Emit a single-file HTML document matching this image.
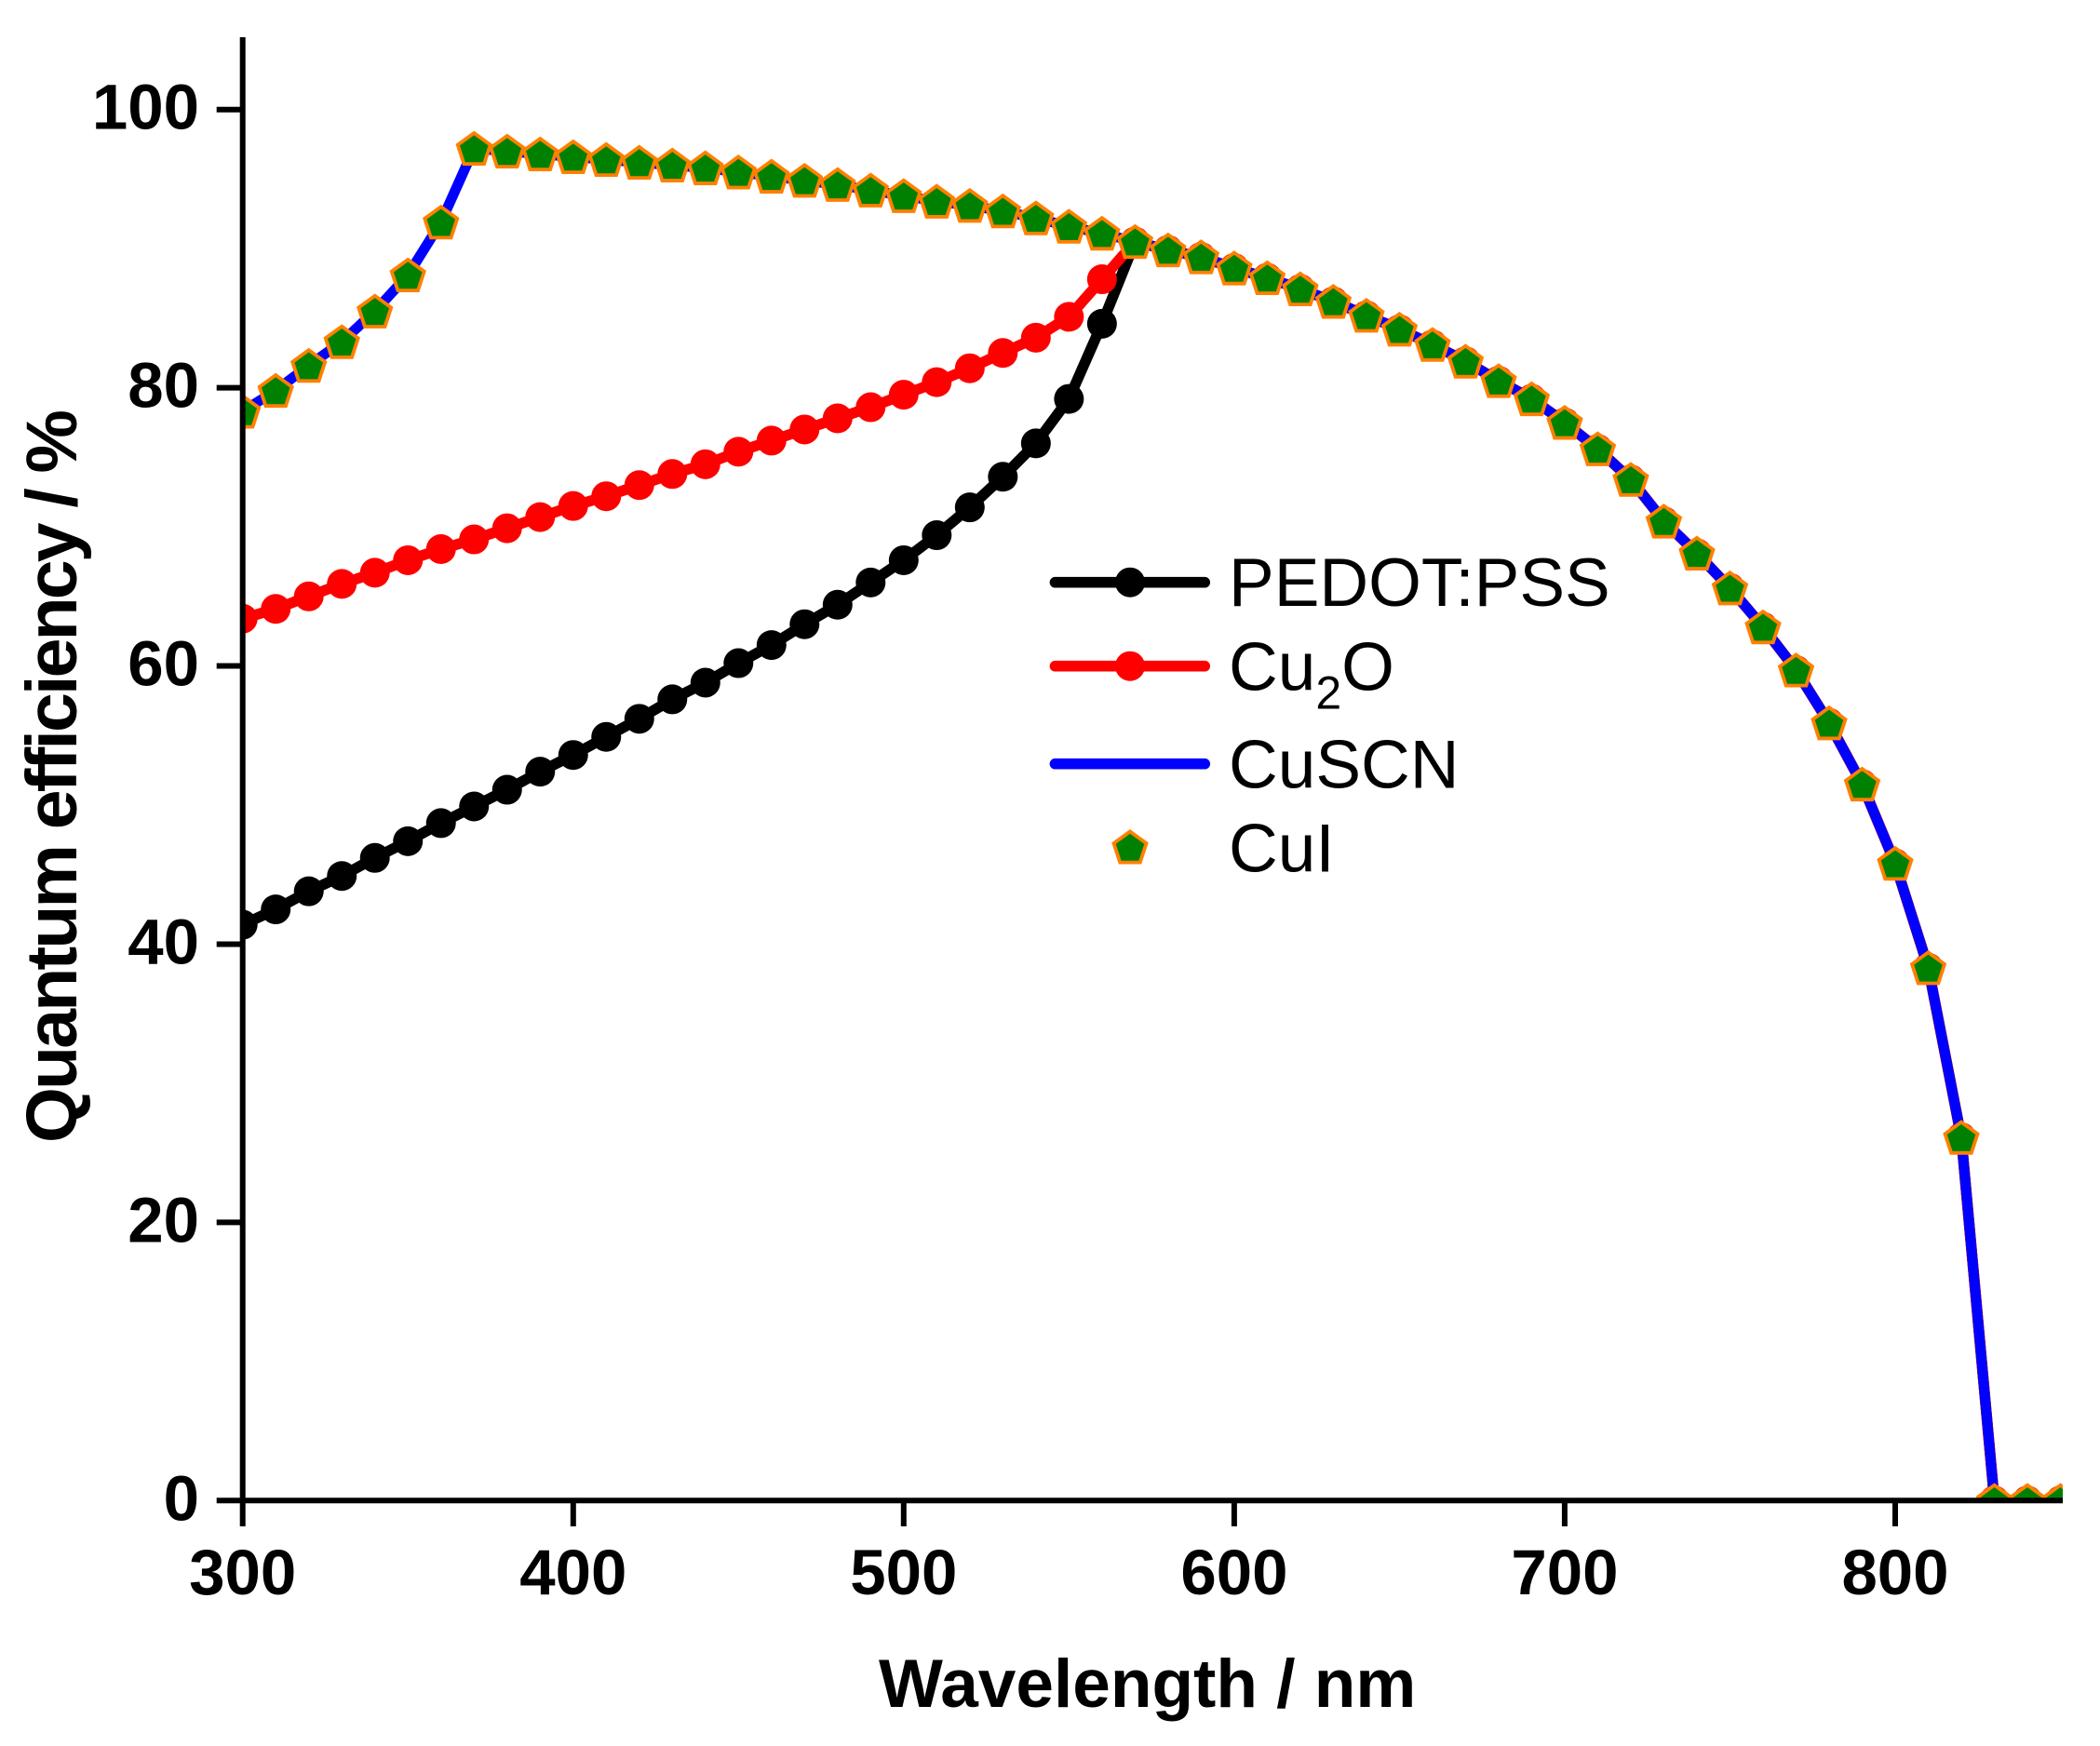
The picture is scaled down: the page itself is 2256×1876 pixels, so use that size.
<!DOCTYPE html>
<html>
<head>
<meta charset="utf-8">
<style>
  html, body { margin: 0; padding: 0; background: #fff; }
  svg { display: block; }
</style>
</head>
<body>
<svg width="2256" height="1876" viewBox="0 0 2256 1876" xmlns="http://www.w3.org/2000/svg">
  <defs>
    <clipPath id="plotclip">
      <rect x="260.7" y="20" width="1955.3" height="1592.3"/>
    </clipPath>
    <path id="pent" transform="scale(0.281643,-0.066908)" d="M0,-16.6 L17.5,-3.9 L10.8,16.6 L-10.8,16.6 L-17.5,-3.9 Z" fill="#008000" stroke="#FF8000" stroke-width="3.8" stroke-linejoin="miter"/>
    <circle id="cblk" r="16" transform="scale(0.281643,0.066908)" fill="#000000"/>
    <circle id="cred" r="16" transform="scale(0.281643,0.066908)" fill="#FF0000"/>
  </defs>

  <rect x="0" y="0" width="2256" height="1876" fill="#ffffff"/>

  <g clip-path="url(#plotclip)">
    <g transform="translate(260.7,1612.3) scale(3.5506,-14.946) translate(-300,0)">
      <!-- PEDOT:PSS -->
      <polyline fill="none" stroke="#000000" stroke-width="11.5" stroke-linejoin="round" vector-effect="non-scaling-stroke"
        points="300,41.4 310,42.5 320,43.8 330,44.9 340,46.2 350,47.4 360,48.7 370,49.9 380,51.1 390,52.4 400,53.6 410,54.9 420,56.2 430,57.6 440,58.8 450,60.2 460,61.5 470,63.0 480,64.4 490,66.0 500,67.6 510,69.4 520,71.4 530,73.6 540,76.0 550,79.2 560,84.6 570,90.5 580,89.9 590,89.4 600,88.6 610,87.9 620,87.1 630,86.2 640,85.2 650,84.2 660,83.1 670,81.9 680,80.5 690,79.2 700,77.5 710,75.6 720,73.4 730,70.4 740,68.1 750,65.6 760,62.8 770,59.7 780,55.9 790,51.5 800,45.8 810,38.3 820,26.1 830,0 840,0 850,0"/>
      <g>
        <use href="#cblk" x="300" y="41.4"/><use href="#cblk" x="310" y="42.5"/><use href="#cblk" x="320" y="43.8"/><use href="#cblk" x="330" y="44.9"/><use href="#cblk" x="340" y="46.2"/><use href="#cblk" x="350" y="47.4"/><use href="#cblk" x="360" y="48.7"/><use href="#cblk" x="370" y="49.9"/><use href="#cblk" x="380" y="51.1"/><use href="#cblk" x="390" y="52.4"/>
        <use href="#cblk" x="400" y="53.6"/><use href="#cblk" x="410" y="54.9"/><use href="#cblk" x="420" y="56.2"/><use href="#cblk" x="430" y="57.6"/><use href="#cblk" x="440" y="58.8"/><use href="#cblk" x="450" y="60.2"/><use href="#cblk" x="460" y="61.5"/><use href="#cblk" x="470" y="63.0"/><use href="#cblk" x="480" y="64.4"/><use href="#cblk" x="490" y="66.0"/>
        <use href="#cblk" x="500" y="67.6"/><use href="#cblk" x="510" y="69.4"/><use href="#cblk" x="520" y="71.4"/><use href="#cblk" x="530" y="73.6"/><use href="#cblk" x="540" y="76.0"/><use href="#cblk" x="550" y="79.2"/><use href="#cblk" x="560" y="84.6"/>
        <use href="#cblk" x="570" y="90.5"/><use href="#cblk" x="580" y="89.9"/><use href="#cblk" x="590" y="89.4"/><use href="#cblk" x="600" y="88.6"/><use href="#cblk" x="610" y="87.9"/><use href="#cblk" x="620" y="87.1"/><use href="#cblk" x="630" y="86.2"/><use href="#cblk" x="640" y="85.2"/><use href="#cblk" x="650" y="84.2"/><use href="#cblk" x="660" y="83.1"/><use href="#cblk" x="670" y="81.9"/>
        <use href="#cblk" x="680" y="80.5"/><use href="#cblk" x="690" y="79.2"/><use href="#cblk" x="700" y="77.5"/><use href="#cblk" x="710" y="75.6"/><use href="#cblk" x="720" y="73.4"/><use href="#cblk" x="730" y="70.4"/><use href="#cblk" x="740" y="68.1"/><use href="#cblk" x="750" y="65.6"/><use href="#cblk" x="760" y="62.8"/><use href="#cblk" x="770" y="59.7"/>
        <use href="#cblk" x="780" y="55.9"/><use href="#cblk" x="790" y="51.5"/><use href="#cblk" x="800" y="45.8"/><use href="#cblk" x="810" y="38.3"/><use href="#cblk" x="820" y="26.1"/><use href="#cblk" x="830" y="0"/><use href="#cblk" x="840" y="0"/><use href="#cblk" x="850" y="0"/>
      </g>

      <!-- Cu2O -->
      <polyline fill="none" stroke="#FF0000" stroke-width="11.5" stroke-linejoin="round" vector-effect="non-scaling-stroke"
        points="300,63.4 310,64.1 320,65.0 330,65.9 340,66.7 350,67.6 360,68.4 370,69.1 380,69.9 390,70.7 400,71.5 410,72.2 420,73.0 430,73.8 440,74.5 450,75.4 460,76.2 470,77.0 480,77.8 490,78.6 500,79.5 510,80.4 520,81.4 530,82.5 540,83.6 550,85.1 560,87.8 570,90.5 580,89.9 590,89.4 600,88.6 610,87.9 620,87.1 630,86.2 640,85.2 650,84.2 660,83.1 670,81.9 680,80.5 690,79.2 700,77.5 710,75.6 720,73.4 730,70.4 740,68.1 750,65.6 760,62.8 770,59.7 780,55.9 790,51.5 800,45.8 810,38.3 820,26.1 830,0 840,0 850,0"/>
      <g>
        <use href="#cred" x="300" y="63.4"/><use href="#cred" x="310" y="64.1"/><use href="#cred" x="320" y="65.0"/><use href="#cred" x="330" y="65.9"/><use href="#cred" x="340" y="66.7"/><use href="#cred" x="350" y="67.6"/><use href="#cred" x="360" y="68.4"/><use href="#cred" x="370" y="69.1"/><use href="#cred" x="380" y="69.9"/><use href="#cred" x="390" y="70.7"/>
        <use href="#cred" x="400" y="71.5"/><use href="#cred" x="410" y="72.2"/><use href="#cred" x="420" y="73.0"/><use href="#cred" x="430" y="73.8"/><use href="#cred" x="440" y="74.5"/><use href="#cred" x="450" y="75.4"/><use href="#cred" x="460" y="76.2"/><use href="#cred" x="470" y="77.0"/><use href="#cred" x="480" y="77.8"/><use href="#cred" x="490" y="78.6"/>
        <use href="#cred" x="500" y="79.5"/><use href="#cred" x="510" y="80.4"/><use href="#cred" x="520" y="81.4"/><use href="#cred" x="530" y="82.5"/><use href="#cred" x="540" y="83.6"/><use href="#cred" x="550" y="85.1"/><use href="#cred" x="560" y="87.8"/>
        <use href="#cred" x="570" y="90.5"/><use href="#cred" x="580" y="89.9"/><use href="#cred" x="590" y="89.4"/><use href="#cred" x="600" y="88.6"/><use href="#cred" x="610" y="87.9"/><use href="#cred" x="620" y="87.1"/><use href="#cred" x="630" y="86.2"/><use href="#cred" x="640" y="85.2"/><use href="#cred" x="650" y="84.2"/><use href="#cred" x="660" y="83.1"/><use href="#cred" x="670" y="81.9"/>
        <use href="#cred" x="680" y="80.5"/><use href="#cred" x="690" y="79.2"/><use href="#cred" x="700" y="77.5"/><use href="#cred" x="710" y="75.6"/><use href="#cred" x="720" y="73.4"/><use href="#cred" x="730" y="70.4"/><use href="#cred" x="740" y="68.1"/><use href="#cred" x="750" y="65.6"/><use href="#cred" x="760" y="62.8"/><use href="#cred" x="770" y="59.7"/>
        <use href="#cred" x="780" y="55.9"/><use href="#cred" x="790" y="51.5"/><use href="#cred" x="800" y="45.8"/><use href="#cred" x="810" y="38.3"/><use href="#cred" x="820" y="26.1"/><use href="#cred" x="830" y="0"/><use href="#cred" x="840" y="0"/><use href="#cred" x="850" y="0"/>
      </g>

      <!-- CuSCN -->
      <polyline fill="none" stroke="#0000FF" stroke-width="11" stroke-linejoin="round" vector-effect="non-scaling-stroke"
        points="300,78.3 310,79.8 320,81.6 330,83.3 340,85.5 350,88.1 360,91.9 370,97.2 380,97.0 390,96.8 400,96.6 410,96.4 420,96.2 430,96.0 440,95.8 450,95.5 460,95.2 470,94.9 480,94.6 490,94.2 500,93.8 510,93.4 520,93.1 530,92.7 540,92.2 550,91.6 560,91.1 570,90.5 580,89.9 590,89.4 600,88.6 610,87.9 620,87.1 630,86.2 640,85.2 650,84.2 660,83.1 670,81.9 680,80.5 690,79.2 700,77.5 710,75.6 720,73.4 730,70.4 740,68.1 750,65.6 760,62.8 770,59.7 780,55.9 790,51.5 800,45.8 810,38.3 820,26.1 830,0 840,0 850,0"/>

      <!-- CuI -->
      <g>
        <use href="#pent" x="300" y="78.3"/><use href="#pent" x="310" y="79.8"/><use href="#pent" x="320" y="81.6"/><use href="#pent" x="330" y="83.3"/><use href="#pent" x="340" y="85.5"/><use href="#pent" x="350" y="88.1"/><use href="#pent" x="360" y="91.9"/><use href="#pent" x="370" y="97.2"/>
        <use href="#pent" x="380" y="97.0"/><use href="#pent" x="390" y="96.8"/><use href="#pent" x="400" y="96.6"/><use href="#pent" x="410" y="96.4"/><use href="#pent" x="420" y="96.2"/><use href="#pent" x="430" y="96.0"/><use href="#pent" x="440" y="95.8"/><use href="#pent" x="450" y="95.5"/><use href="#pent" x="460" y="95.2"/><use href="#pent" x="470" y="94.9"/>
        <use href="#pent" x="480" y="94.6"/><use href="#pent" x="490" y="94.2"/><use href="#pent" x="500" y="93.8"/><use href="#pent" x="510" y="93.4"/><use href="#pent" x="520" y="93.1"/><use href="#pent" x="530" y="92.7"/><use href="#pent" x="540" y="92.2"/><use href="#pent" x="550" y="91.6"/><use href="#pent" x="560" y="91.1"/><use href="#pent" x="570" y="90.5"/>
        <use href="#pent" x="580" y="89.9"/><use href="#pent" x="590" y="89.4"/><use href="#pent" x="600" y="88.6"/><use href="#pent" x="610" y="87.9"/><use href="#pent" x="620" y="87.1"/><use href="#pent" x="630" y="86.2"/><use href="#pent" x="640" y="85.2"/><use href="#pent" x="650" y="84.2"/><use href="#pent" x="660" y="83.1"/><use href="#pent" x="670" y="81.9"/>
        <use href="#pent" x="680" y="80.5"/><use href="#pent" x="690" y="79.2"/><use href="#pent" x="700" y="77.5"/><use href="#pent" x="710" y="75.6"/><use href="#pent" x="720" y="73.4"/><use href="#pent" x="730" y="70.4"/><use href="#pent" x="740" y="68.1"/><use href="#pent" x="750" y="65.6"/><use href="#pent" x="760" y="62.8"/><use href="#pent" x="770" y="59.7"/>
        <use href="#pent" x="780" y="55.9"/><use href="#pent" x="790" y="51.5"/><use href="#pent" x="800" y="45.8"/><use href="#pent" x="810" y="38.3"/><use href="#pent" x="820" y="26.1"/><use href="#pent" x="830" y="0"/><use href="#pent" x="840" y="0"/><use href="#pent" x="850" y="0"/>
      </g>
    </g>
  </g>

  <!-- Axes -->
  <g stroke="#000" stroke-width="6" fill="none">
    <line x1="260.7" y1="40" x2="260.7" y2="1640"/>
    <line x1="232.7" y1="1612.3" x2="2216" y2="1612.3"/>
    <line x1="232.7" y1="1313.4" x2="260.7" y2="1313.4"/>
    <line x1="232.7" y1="1014.5" x2="260.7" y2="1014.5"/>
    <line x1="232.7" y1="715.5" x2="260.7" y2="715.5"/>
    <line x1="232.7" y1="416.6" x2="260.7" y2="416.6"/>
    <line x1="232.7" y1="117.7" x2="260.7" y2="117.7"/>
    <line x1="615.8" y1="1612.3" x2="615.8" y2="1640"/>
    <line x1="970.8" y1="1612.3" x2="970.8" y2="1640"/>
    <line x1="1325.9" y1="1612.3" x2="1325.9" y2="1640"/>
    <line x1="1680.9" y1="1612.3" x2="1680.9" y2="1640"/>
    <line x1="2036" y1="1612.3" x2="2036" y2="1640"/>
  </g>

  <!-- Tick labels -->
  <g font-family="'Liberation Sans', Arial, sans-serif" font-weight="bold" font-size="69" fill="#000">
    <g text-anchor="end">
      <text x="214" y="1633.3">0</text>
      <text x="214" y="1334.4">20</text>
      <text x="214" y="1035.5">40</text>
      <text x="214" y="736.5">60</text>
      <text x="214" y="437.6">80</text>
      <text x="214" y="138.7">100</text>
    </g>
    <g text-anchor="middle">
      <text x="260.7" y="1713">300</text>
      <text x="615.8" y="1713">400</text>
      <text x="970.8" y="1713">500</text>
      <text x="1325.9" y="1713">600</text>
      <text x="1680.9" y="1713">700</text>
      <text x="2036" y="1713">800</text>
    </g>
  </g>

  <!-- Axis titles -->
  <text x="944" y="1834" font-family="'Liberation Sans', Arial, sans-serif" font-weight="bold" font-size="73" fill="#000">Wavelength / nm</text>
  <text transform="translate(82,1228) rotate(-90)" x="0" y="0" font-family="'Liberation Sans', Arial, sans-serif" font-weight="bold" font-size="77" fill="#000" textLength="788" lengthAdjust="spacing">Quantum efficiency / %</text>

  <!-- Legend -->
  <g>
    <line x1="1133.5" y1="625.7" x2="1294.2" y2="625.7" stroke="#000" stroke-width="11.7" stroke-linecap="round"/>
    <circle cx="1214" cy="625.7" r="16" fill="#000"/>
    <line x1="1133.5" y1="715.7" x2="1294.2" y2="715.7" stroke="#FF0000" stroke-width="11.7" stroke-linecap="round"/>
    <circle cx="1214" cy="715.7" r="16" fill="#FF0000"/>
    <line x1="1133.5" y1="820.7" x2="1294.2" y2="820.7" stroke="#0000FF" stroke-width="11.7" stroke-linecap="round"/>
    <path transform="translate(1214,910)" d="M0,-16.6 L17.5,-3.9 L10.8,16.6 L-10.8,16.6 L-17.5,-3.9 Z" fill="#008000" stroke="#FF8000" stroke-width="3.8"/>
  </g>
  <g font-family="'Liberation Sans', Arial, sans-serif" font-size="73" fill="#000">
    <text x="1320" y="651">PEDOT:PSS</text>
    <text x="1320" y="741.7">Cu<tspan font-size="50" dy="20">2</tspan><tspan dy="-20">O</tspan></text>
    <text x="1320" y="846.7">CuSCN</text>
    <text x="1320" y="936.7">CuI</text>
  </g>
</svg>
</body>
</html>
